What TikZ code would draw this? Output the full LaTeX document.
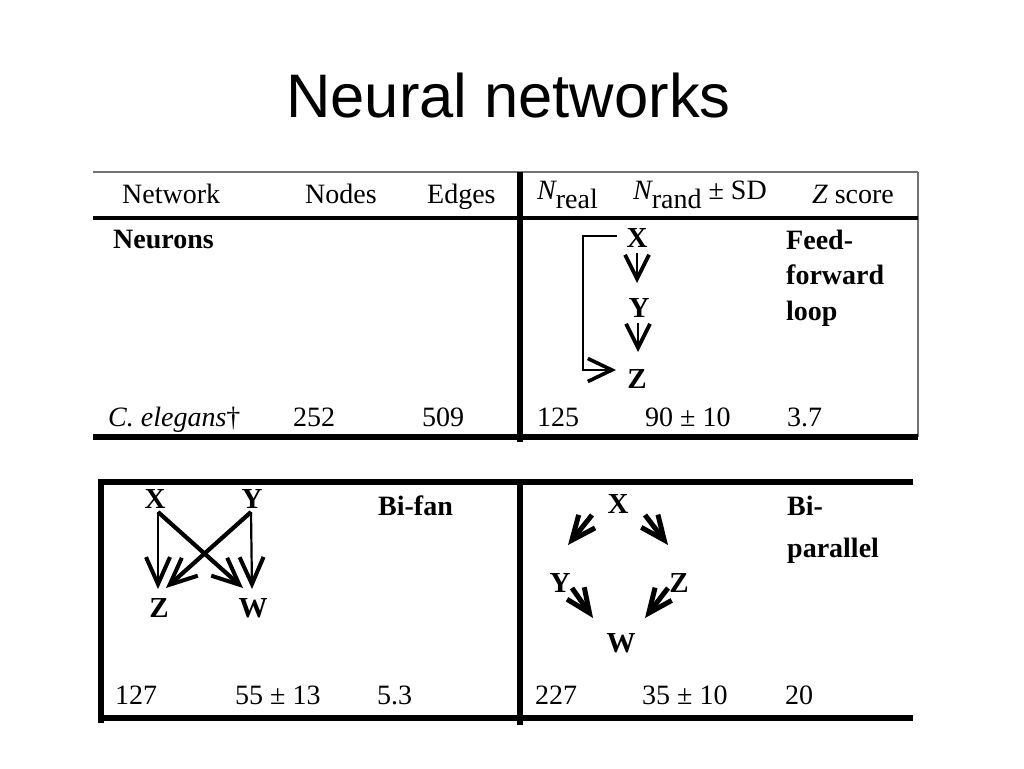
\documentclass[tikz,border=0pt]{standalone}
\usepackage{fontspec}
\setmainfont{Liberation Serif}
\setsansfont{Liberation Sans}
\usetikzlibrary{arrows.meta}
\tikzset{
  tbl/.style={font=\fontsize{28}{30}\selectfont, inner sep=0pt, anchor=base west},
  tblb/.style={font=\fontsize{28}{30}\selectfont\bfseries, inner sep=0pt, anchor=base west},
  mot/.style={font=\fontsize{29}{30}\selectfont\bfseries, inner sep=0pt, anchor=base},
  thinrule/.style={line width=1.2pt, black!55},
  rule/.style={line width=6pt, black},
  headrule/.style={line width=4.5pt, black},
  vArr/.style={line width=2.8pt, -{Straight Barb[length=24pt,width=24pt,line width=3.8pt]}},
  loopArr/.style={line width=2pt, -{Straight Barb[length=24pt,width=23pt,line width=3.6pt]}},
  fanV/.style={line width=2.2pt, -{Straight Barb[length=27pt,width=24pt,line width=4pt]}},
  fanD/.style={line width=4.2pt, -{Straight Barb[length=27pt,width=24pt,line width=4pt]}},
  parArr/.style={line width=5pt, -{Straight Barb[length=24pt,width=21pt,line width=5pt]}}
}
\begin{document}
\begin{tikzpicture}[x=1pt,y=-1pt]
\fill[white] (0,0) rectangle (1024,768);
\useasboundingbox (0,0) rectangle (1024,768);

% title
\node[font=\fontsize{61.5}{70}\selectfont\sffamily, inner sep=0pt, anchor=base] (title) at (508.5,117) {Neural networks};

% ---------- top table rules
\draw[thinrule] (93,172) -- (918,172);
\draw[thinrule] (918,172) -- (918,437);
\draw[headrule] (93,218) -- (918,218);
\draw[rule] (93,437) -- (918,437);
\draw[rule] (520,172) -- (520,442);

% header
\node[tbl] (hNet) at (122,203) {Network};
\node[tbl] (hNodes) at (305,203) {Nodes};
\node[tbl] (hEdges) at (427,203) {Edges};
\node[tbl] (hNreal) at (537,199) {\itshape N\upshape\raisebox{-9pt}{real}};
\node[tbl] (hNrand) at (633,199) {\itshape N\upshape\raisebox{-9pt}{rand} ± SD};
\node[tbl] (hZ) at (812,203) {\itshape Z\upshape{} score};

% neurons row
\node[tblb] (neurons) at (113,248) {Neurons};
\node[tbl] (celeg) at (108,426) {\itshape C. elegans\upshape †};
\node[tbl] (n252) at (293,426) {252};
\node[tbl] (n509) at (422,426) {509};
\node[tbl] (n125) at (537,426) {125};
\node[tbl] (n90) at (645,426) {90 ± 10};
\node[tbl] (n37) at (787,426) {3.7};

% feed-forward loop
\node[tblb] (ffl1) at (786,249) {Feed-};
\node[tblb] (ffl2) at (786,284) {forward};
\node[tblb] (ffl3) at (786,320) {loop};
\node[mot] (fX) at (637,247) {X};
\node[mot] (fY) at (639,317) {Y};
\node[mot] (fZ) at (637,388) {Z};
\coordinate (fXs) at (637,253);
\coordinate (fYn) at (637,283);
\coordinate (fYs) at (638,323);
\coordinate (fZn) at (638,352);
\coordinate (fXw) at (617,236);
\coordinate (fZw) at (616,370);
\draw[vArr] (fXs) -- (fYn);
\draw[vArr] (fYs) -- (fZn);
\draw[loopArr] (fXw) -- ++(-34,0) |- (fZw);

% ---------- bottom table rules
\draw[rule] (98,482) -- (913,482);
\draw[rule] (98,718) -- (913,718);
\draw[rule] (101,479) -- (101,723);
\draw[rule] (520,479) -- (520,725);

% bi-fan
\node[tblb] (bifan) at (378,515) {Bi-fan};
\node[mot] (bX) at (155,508) {X};
\node[mot] (bY) at (252,508) {Y};
\node[mot] (bZ) at (159,617) {Z};
\node[mot] (bW) at (253,617) {W};
\coordinate (bXs) at (158,512);
\coordinate (bYs) at (251,512);
\coordinate (bZn) at (158,589);
\coordinate (bWn) at (252,589);
\coordinate (bZne) at (166,588);
\coordinate (bWnw) at (243,588);
\draw[fanV] (bXs) -- (bZn);
\draw[fanV] (bYs) -- (bWn);
\draw[fanD] (bXs) -- (bWnw);
\draw[fanD] (bYs) -- (bZne);
\node[tbl] (b127) at (115,704) {127};
\node[tbl] (b55) at (235,704) {55 ± 13};
\node[tbl] (b53) at (377,704) {5.3};

% bi-parallel
\node[tblb] (bip1) at (787,515) {Bi-};
\node[tblb] (bip2) at (787,557) {parallel};
\node[mot] (pX) at (618,513) {X};
\node[mot] (pY) at (560,592) {Y};
\node[mot] (pZ) at (679,592) {Z};
\node[mot] (pW) at (621,652) {W};
\coordinate (pXl) at (592,515);
\coordinate (pXr) at (645,515);
\coordinate (pYt) at (568,545);
\coordinate (pZt) at (668,545);
\coordinate (pYb) at (572,588);
\coordinate (pZb) at (668,588);
\coordinate (pWl) at (593,618);
\coordinate (pWr) at (645,618);
\draw[parArr] (pXl) -- (pYt);
\draw[parArr] (pXr) -- (pZt);
\draw[parArr] (pYb) -- (pWl);
\draw[parArr] (pZb) -- (pWr);
\node[tbl] (p227) at (535,704) {227};
\node[tbl] (p35) at (642,704) {35 ± 10};
\node[tbl] (p20) at (785,704) {20};
\end{tikzpicture}
\end{document}
